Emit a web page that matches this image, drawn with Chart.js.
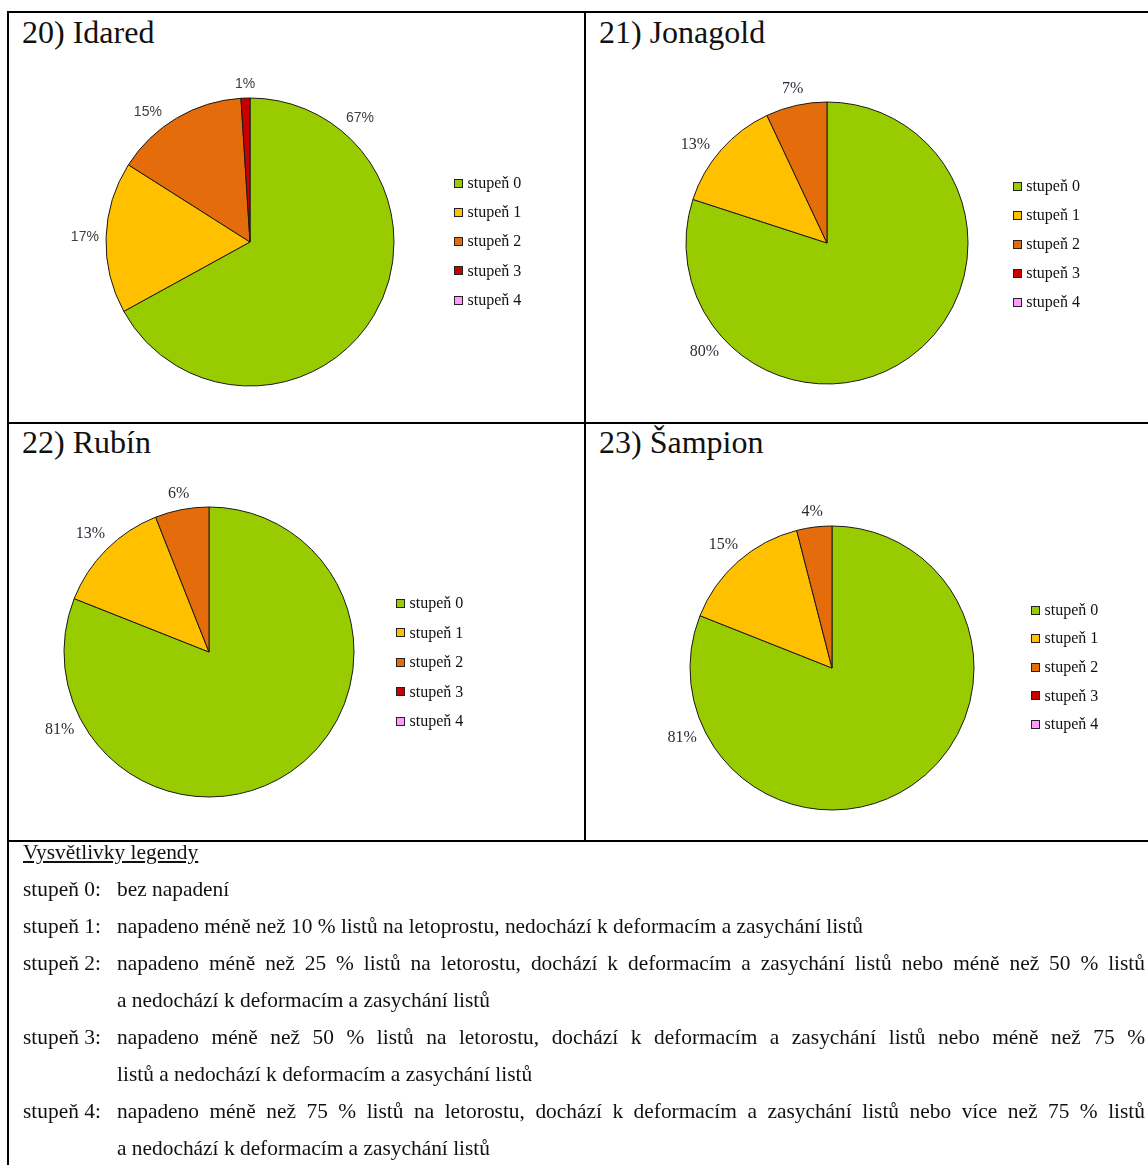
<!DOCTYPE html>
<html>
<head>
<meta charset="utf-8">
<script src="https://cdn.jsdelivr.net/npm/chart.js@4.4.1/dist/chart.umd.min.js"></script>
<style>
  html, body { margin: 0; padding: 0; background: #fff; overflow: hidden; }
  body { width: 1148px; height: 1165px; position: relative; font-family: "Liberation Serif", "Times New Roman", serif; color: #000; }
  .rule { position: absolute; background: #000; }
  .title { position: absolute; font-size: 32px; line-height: 32px; white-space: nowrap; color: #111; }
  canvas { position: absolute; }
  .notes { position: absolute; left: 23px; top: 834px; width: 1122px; font-size: 21.4px; line-height: 37px; color: #111; }
  .row { position: relative; }
  .lab { position: absolute; left: 0; top: 0; white-space: nowrap; }
  .txt { margin-left: 94px; width: 1028px; }
  .j { text-align: justify; text-align-last: justify; }
</style>
</head>
<body>

<!-- table frame -->
<div class="rule" style="left:7px; top:11px; width:1141px; height:2px"></div>
<div class="rule" style="left:7px; top:11px; width:2px; height:1154px"></div>
<div class="rule" style="left:584px; top:11px; width:2px; height:831px"></div>
<div class="rule" style="left:7px; top:422px; width:1141px; height:2px"></div>
<div class="rule" style="left:7px; top:840px; width:1141px; height:2px"></div>

<div class="title" style="left:22px; top:15.5px">20) Idared</div>
<div class="title" style="left:599px; top:15.5px">21) Jonagold</div>
<div class="title" style="left:22px; top:425.5px">22) Rubín</div>
<div class="title" style="left:599px; top:425.5px">23) Šampion</div>

<canvas id="pie1"></canvas>
<canvas id="pie2"></canvas>
<canvas id="pie3"></canvas>
<canvas id="pie4"></canvas>

<div class="notes">
  <div><u>Vysvětlivky legendy</u></div>
  <div class="row"><span class="lab">stupeň 0:</span>
    <div class="txt"><div>bez napadení</div></div></div>
  <div class="row"><span class="lab">stupeň 1:</span>
    <div class="txt"><div>napadeno méně než 10 % listů na letoprostu, nedochází k deformacím a zasychání listů</div></div></div>
  <div class="row"><span class="lab">stupeň 2:</span>
    <div class="txt"><div class="j">napadeno méně než 25 % listů na letorostu, dochází k deformacím a zasychání listů nebo méně než 50 % listů</div>
    <div>a nedochází k deformacím a zasychání listů</div></div></div>
  <div class="row"><span class="lab">stupeň 3:</span>
    <div class="txt"><div class="j">napadeno méně než 50 % listů na letorostu, dochází k deformacím a zasychání listů nebo méně než 75 %</div>
    <div>listů a nedochází k deformacím a zasychání listů</div></div></div>
  <div class="row"><span class="lab">stupeň 4:</span>
    <div class="txt"><div class="j">napadeno méně než 75 % listů na letorostu, dochází k deformacím a zasychání listů nebo více než 75 % listů</div>
    <div>a nedochází k deformacím a zasychání listů</div></div></div>
</div>

<script>
// grades and their colours
const grades = ["stupeň 0", "stupeň 1", "stupeň 2", "stupeň 3", "stupeň 4"];
const gradeColors = ["#99CC00", "#FFC000", "#E46C0A", "#C80000", "#FF99FF"];

// share of leaves per grade, %
const idared = [67, 17, 15, 1, 0];
const jonagold = [80, 13, 7, 0, 0];
const rubin = [81, 13, 6, 0, 0];
const sampion = [81, 15, 4, 0, 0];

const sansLabel = { font: '14px "Liberation Sans", Arial, sans-serif', size: 14, color: "#404040" };
const serifLabel = { font: '16px "Liberation Serif", serif', size: 15, color: "#2b2b38" };

// where each pie sits on the page; labelAt moves a label to another clock angle (deg)
const pies = [
    { id: "pie1", values: idared,   box: [9, 13, 575, 409],    cx: 250, cy: 242, r: 144, legend: [454, 183.3, 29.2],  label: sansLabel,  labelAt: { 0: 41.6, 2: 321.8 } },
    { id: "pie2", values: jonagold, box: [586, 13, 562, 409],  cx: 827, cy: 243, r: 141, legend: [1012.7, 186.7, 29], label: serifLabel, labelAt: { 0: 228.4, 1: 306.8 } },
    { id: "pie3", values: rubin,    box: [9, 424, 575, 416],   cx: 209, cy: 652, r: 145, legend: [396, 603.3, 29.5],  label: serifLabel, labelAt: { 0: 242.5 } },
    { id: "pie4", values: sampion,  box: [586, 424, 562, 416], cx: 832, cy: 668, r: 142, legend: [1031, 610, 28.6],   label: serifLabel, labelAt: { 0: 245 } }
];

// percentage labels just outside the rim
const sliceLabels = {
    id: "sliceLabels",
    afterDatasetsDraw(chart, args, opts) {
        const ctx = chart.ctx;
        const arcs = chart.getDatasetMeta(0).data;
        const values = chart.data.datasets[0].data;
        const moved = opts.labelAt || {};
        ctx.save();
        ctx.font = opts.font;
        ctx.fillStyle = opts.color;
        ctx.textAlign = "center";
        ctx.textBaseline = "middle";
        arcs.forEach((arc, i) => {
            if (!values[i]) return;
            const text = values[i] + "%";
            let angle = (arc.startAngle + arc.endAngle) / 2;
            if (moved[i] != null) angle = moved[i] * Math.PI / 180 - Math.PI / 2;
            const w = ctx.measureText(text).width;
            const half = Math.abs(Math.cos(angle)) * w / 2 + Math.abs(Math.sin(angle)) * opts.size / 2;
            const d = arc.outerRadius + 7 + half;
            ctx.fillText(text, arc.x + Math.cos(angle) * d, arc.y + Math.sin(angle) * d);
        });
        ctx.restore();
    }
};

// legend column with small boxed squares
const gradeLegend = {
    id: "gradeLegend",
    afterDraw(chart, args, opts) {
        const ctx = chart.ctx;
        const colors = chart.data.datasets[0].backgroundColor;
        ctx.save();
        ctx.font = '16px "Liberation Serif", serif';
        ctx.textBaseline = "middle";
        chart.data.labels.forEach((label, i) => {
            const y = opts.y + i * opts.step;
            const sy = Math.round(y - 4.5) + 0.5;
            const sx = Math.round(opts.x) + 0.5;
            ctx.fillStyle = colors[i];
            ctx.fillRect(sx, sy, 8, 8);
            ctx.strokeStyle = "#222";
            ctx.lineWidth = 1;
            ctx.strokeRect(sx, sy, 8, 8);
            ctx.fillStyle = "#111";
            ctx.fillText(label, opts.x + 13.5, y + 0.5);
        });
        ctx.restore();
    }
};

pies.forEach(p => {
    const [left, top, w, h] = p.box;
    const canvas = document.getElementById(p.id);
    canvas.width = w;
    canvas.height = h;
    canvas.style.left = left + "px";
    canvas.style.top = top + "px";

    // pad the chart area so its centre lands on the pie centre
    const cx = p.cx - left, cy = p.cy - top;
    const padding = {
        left: Math.max(0, 2 * cx - w), right: Math.max(0, w - 2 * cx),
        top: Math.max(0, 2 * cy - h), bottom: Math.max(0, h - 2 * cy)
    };

    new Chart(canvas, {
        type: "pie",
        data: {
            labels: grades,
            datasets: [{
                data: p.values,
                backgroundColor: gradeColors,
                borderColor: "#1a1a1a",
                borderWidth: 1,
                radius: p.r
            }]
        },
        options: {
            responsive: false,
            animation: false,
            events: [],
            layout: { padding: padding },
            plugins: {
                legend: { display: false },
                tooltip: { enabled: false },
                sliceLabels: Object.assign({ labelAt: p.labelAt }, p.label),
                gradeLegend: { x: p.legend[0] - left, y: p.legend[1] - top, step: p.legend[2] }
            }
        },
        plugins: [sliceLabels, gradeLegend]
    });
});
</script>
</body>
</html>
